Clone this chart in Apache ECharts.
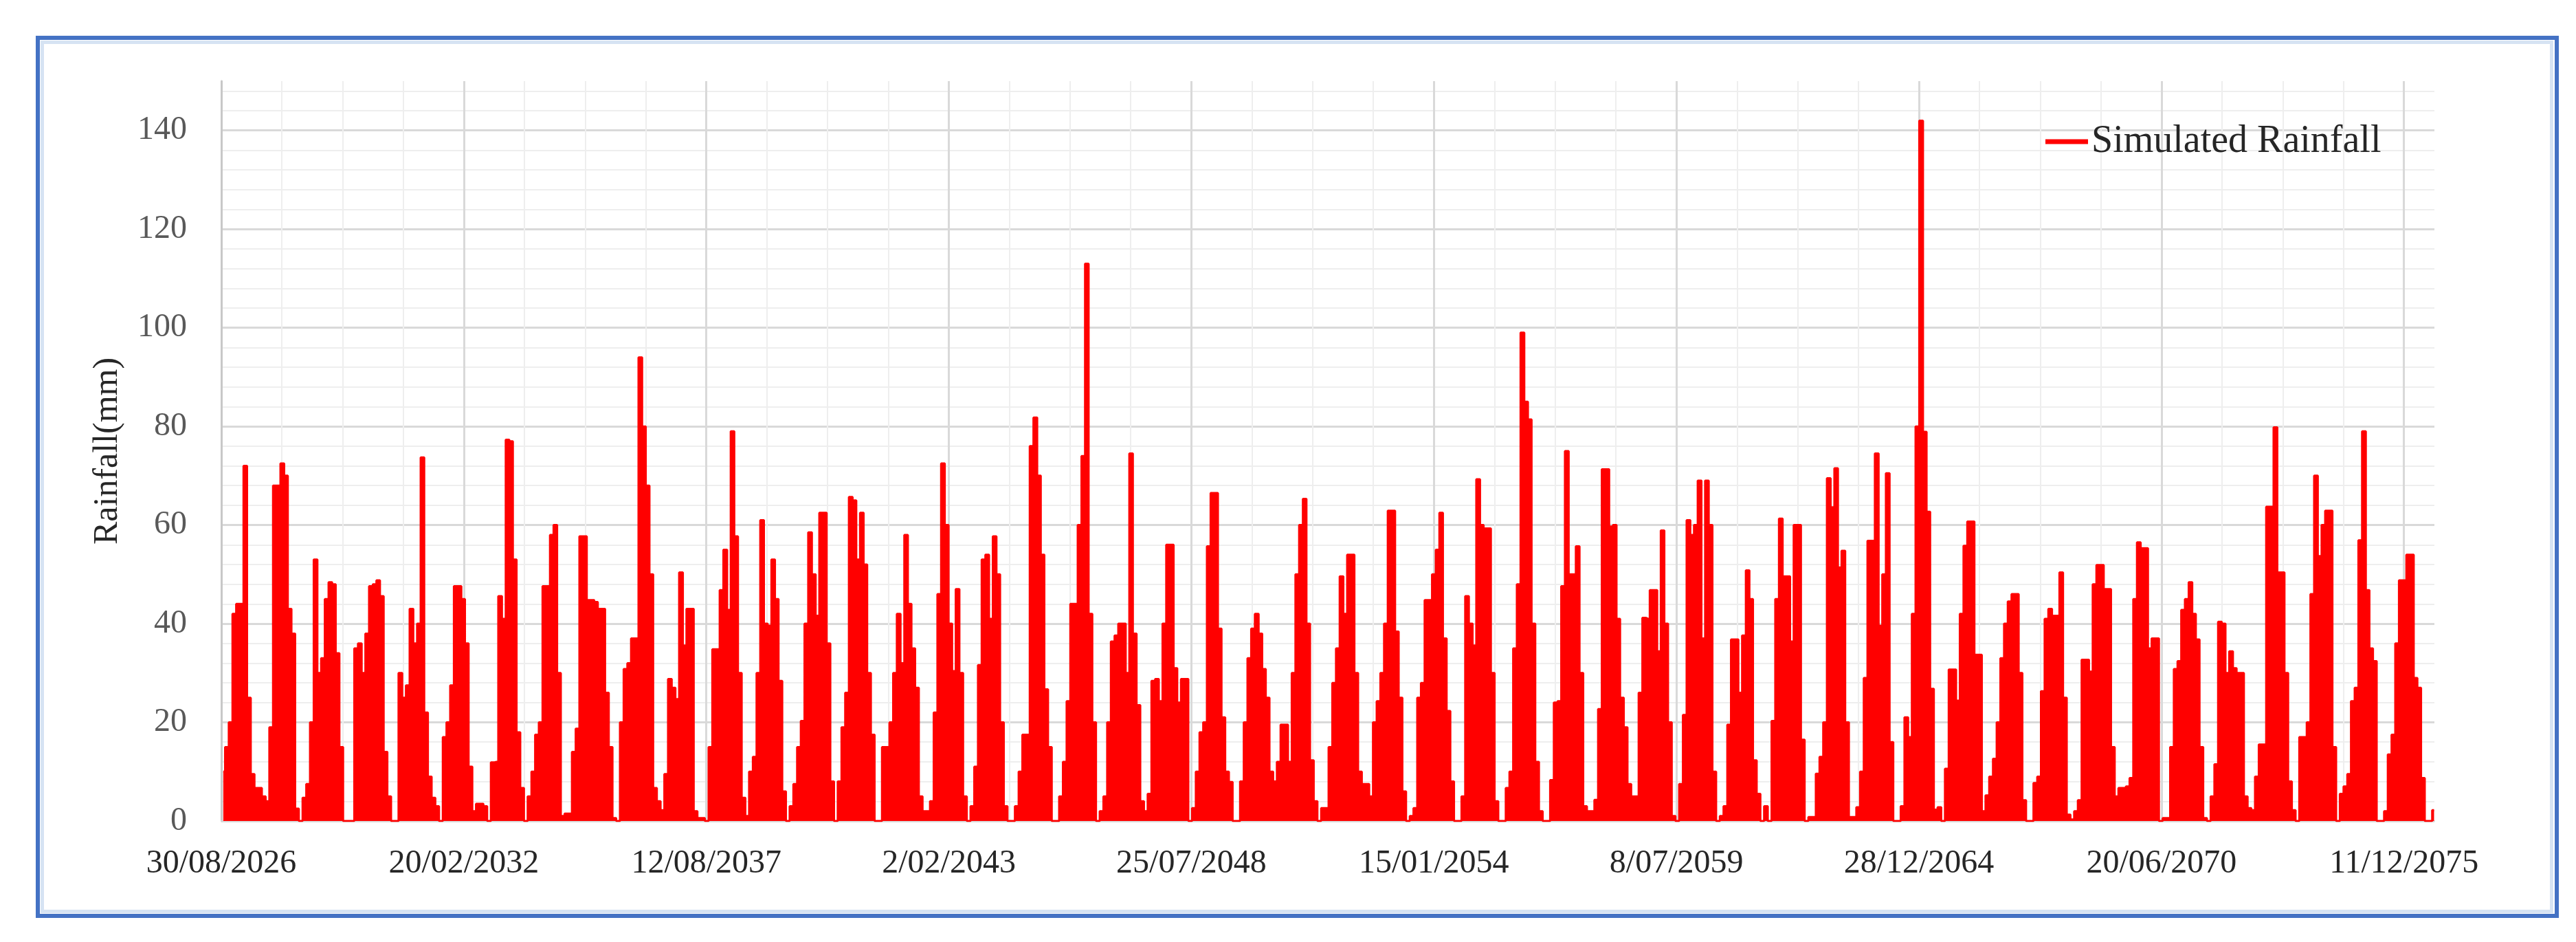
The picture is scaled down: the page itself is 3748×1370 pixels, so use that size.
<!DOCTYPE html>
<html>
<head>
<meta charset="utf-8">
<script src="https://cdn.jsdelivr.net/npm/echarts@6/dist/echarts.min.js"></script>
<style>
html,body{margin:0;padding:0;background:#ffffff;}
#chart{width:3748px;height:1370px;}
</style>
</head>
<body>
<div id="chart"></div>
<script>
// ---- DATA (monthly envelope of simulated daily rainfall, mm; first value = Sep 2026) ----
const seriesName = 'Simulated Rainfall';
const axisOriginDate = [2026, 7, 30];   // 30/08/2026 (UTC y, m0, d)
const firstMonth = [2026, 8];           // Sep 2026
const xTickLabels = ['30/08/2026','20/02/2032','12/08/2037','2/02/2043','25/07/2048',
                     '15/01/2054','8/07/2059','28/12/2064','20/06/2070','11/12/2075'];
const xTickStepDays = 2000;
const yTickValues = [0, 20, 40, 60, 80, 100, 120, 140];

const rainSep2026toAug2036 = [
  10, 15, 20, 42, 44, 44, 72, 25, 9.5, 6.7, 6.7, 5,
  4, 19, 68, 68, 72.5, 70, 43, 38, 2.5, 0, 4.7, 7.5,
  20, 53, 30, 33, 45, 48.4, 48, 34, 15, 0, 0, 0,
  35, 36, 30, 38, 47.6, 48, 48.8, 45.6, 14, 5, 0, 0,
  30, 25, 27.5, 43, 36, 40, 73.7, 22, 9, 4.7, 3, 0,
  17, 20, 27.5, 47.6, 47.6, 45, 36, 11, 2, 3.5, 3.5, 3,
  0, 11.9, 12, 45.6, 41, 77.3, 77, 53, 18, 6.7, 0, 5,
  10, 17.5, 20, 47.6, 47.6, 58, 60, 30, 1, 1.5, 1.5, 14,
  18.7, 57.7, 57.7, 44.8, 44.8, 44.4, 43, 43, 26, 15, 0.6, 0,
  20, 30.8, 32, 37, 37, 94, 80, 68, 50, 6.7, 4, 2.2
];
const rainSep2036toAug2046 = [
  9.5, 28.8, 27, 24.7, 50.4, 35.6, 43, 43, 2, 0.6, 0.6, 0,
  15, 34.8, 34.8, 46.8, 55, 42.8, 79, 57.7, 30, 4.7, 1, 10,
  13, 30, 61, 40, 39.6, 53, 45, 28.4, 6, 0, 3, 7.5,
  15, 20.3, 40, 58.5, 50, 41.6, 62.5, 62.5, 36, 8, 0, 8,
  19, 26, 65.7, 65, 53, 62.5, 52, 30, 17.5, 0, 0, 15,
  15, 20, 30, 42, 32, 58, 44, 35, 27, 5, 2, 2,
  4, 22, 46, 72.5, 60, 40, 30.4, 47, 30, 5, 0, 3,
  11, 31.6, 53, 54, 41, 57.7, 50, 20, 3, 0, 0, 3,
  10, 17.5, 17.5, 76, 81.8, 70, 54, 26.7, 15, 0, 0, 5,
  12, 24.3, 44, 44, 60, 74, 113, 42, 20, 0, 2, 5
];
const rainSep2046toAug2056 = [
  20, 36.4, 37.6, 40, 40, 30, 74.5, 38, 23.5, 4, 2, 5.5,
  28.4, 28.8, 24.3, 40, 56, 56, 31, 24, 28.8, 28.8, 0, 2.6,
  10, 18, 20, 55.7, 66.5, 66.5, 39, 21, 10, 7.9, 0, 0,
  8, 20, 33, 39, 42, 38, 30.8, 25, 10, 8, 12, 19.5,
  19.5, 12, 30, 50, 60, 65.3, 40, 12.3, 4, 0, 2.6, 2.6,
  15, 28, 35, 49.6, 42, 54, 54, 30, 10, 7.5, 7.5, 5,
  20, 24.3, 30, 40, 62.9, 62.9, 38.4, 25, 6, 0, 1, 2.6,
  25, 28, 44.8, 44.8, 50, 55, 62.5, 37, 22.3, 8, 0, 0,
  5, 45.6, 40, 35.6, 69.3, 60, 59.3, 59.3, 30, 4, 0, 0,
  6.7, 10, 35, 48, 99, 85, 81.4, 40, 12, 2, 0, 0
];
const rainSep2056toAug2066 = [
  8.3, 24, 24.3, 47.6, 75, 50, 50, 55.7, 30, 3, 2, 2,
  4.3, 22.7, 71.3, 71.3, 59.7, 60, 41, 25, 19, 7.5, 5, 5,
  26, 41.2, 41, 46.8, 46.8, 34.4, 58.9, 40, 20, 1, 0, 7.5,
  21.5, 61, 58, 60, 69, 37, 69, 60, 10, 0, 1, 3,
  19.5, 36.8, 36.8, 26, 37.6, 50.8, 45, 12.3, 5.5, 0, 3, 0,
  20.3, 45, 61.3, 49.6, 49.6, 36.4, 60, 60, 16.5, 0, 0.8, 0.8,
  9.6, 13, 20, 69.5, 63.6, 71.5, 51.4, 54.8, 20, 0.8, 0.8, 2.8,
  10, 29, 56.8, 56.8, 74.5, 39.6, 50, 70.5, 16, 0, 0, 3,
  21, 17, 42, 80, 142, 78.9, 62.7, 26.8, 2.3, 2.8, 0, 10.6,
  30.7, 30.7, 24.4, 42, 55.8, 60.7, 60.7, 33.7, 33.7, 2, 5.2, 9
];
const rainSep2066toAug2076 = [
  12.6, 20, 33, 40, 44.5, 46, 46, 30, 4.2, 0, 0, 7.7,
  9, 26.3, 41, 43, 41.6, 41.6, 50.4, 25, 1.3, 0.3, 2, 4.2,
  32.7, 32.7, 30.3, 48, 51.9, 51.9, 47, 47, 15, 5, 6.7, 6.7,
  7, 8.7, 45, 56.5, 55.3, 55.3, 35, 37, 37, 0, 0.6, 0.6,
  15, 30.8, 32.4, 42.8, 45, 48.4, 42, 36.8, 15, 0.6, 0, 5,
  11.5, 40.4, 40, 30, 34.4, 31, 30, 30, 5, 2.6, 2.2, 9,
  15.5, 15.5, 63.7, 63.7, 79.8, 50.4, 50.4, 30, 8, 2.2, 0, 17,
  17, 20, 46, 70, 53.7, 60, 62.9, 62.9, 15, 0, 5.5, 7,
  9.5, 24.3, 27, 56.9, 79, 46.8, 35, 32.4, 0, 0, 2, 13.5,
  17.5, 36, 48.8, 48.8, 54, 54, 29, 27, 8.7, 0, 0, 2.2
];

// ---- BUILD ----
const DAY = 86400000;
const origin = Date.UTC(axisOriginDate[0], axisOriginDate[1], axisOriginDate[2]);
const monthly = [].concat(rainSep2026toAug2036, rainSep2036toAug2046, rainSep2046toAug2056,
                          rainSep2056toAug2066, rainSep2066toAug2076);
const seriesData = monthly.map((v, k) => [
  (Date.UTC(firstMonth[0], firstMonth[1] + k, 15) - origin) / DAY, v
]);
const xMaxDays = 18251;
const yMax = 150;

const FONT = '"Liberation Serif", "Times New Roman", serif';

// minor gridline colours (hide lines that coincide with major lines)
const yMinorColors = [];
for (let v = 0; v <= 148; v += 4) yMinorColors.push(v % 20 === 0 ? 'rgba(0,0,0,0)' : '#eeeeee');
const xMinorColors = [];
for (let v = 0; v <= 18000; v += 500) xMinorColors.push(v % 2000 === 0 ? 'rgba(0,0,0,0)' : '#eeeeee');

const chart = echarts.init(document.getElementById('chart'), null, {renderer: 'canvas'});
chart.setOption({
  animation: false,
  backgroundColor: '#ffffff',
  grid: {left: 322, right: 206, top: 118, bottom: 176, containLabel: false},
  legend: {
    data: [seriesName],
    left: 2976, top: 176,
    padding: 0,
    icon: 'rect', itemWidth: 62, itemHeight: 7,
    itemStyle: {color: '#ff0000'},
    textStyle: {fontFamily: FONT, fontSize: 56, color: '#262626', lineHeight: 60}
  },
  graphic: [
    {type: 'rect', shape: {x: 55, y: 55, width: 3665, height: 1277}, z: 100,
     style: {fill: null, stroke: '#4472c4', lineWidth: 6}},
    {type: 'rect', shape: {x: 61.5, y: 61.5, width: 3651, height: 1264}, z: 100,
     style: {fill: null, stroke: '#d6e3f3', lineWidth: 5}}
  ],
  xAxis: [
    {
      type: 'value', min: 0, max: xMaxDays, interval: xTickStepDays,
      axisLine: {show: true, lineStyle: {color: '#d9d9d9', width: 2}},
      axisTick: {show: false},
      axisLabel: {
        show: true, margin: 38, showMaxLabel: false,
        fontFamily: FONT, fontSize: 48, color: '#262626',
        formatter: v => {
          const i = Math.round(v / xTickStepDays);
          return (Math.abs(v - i * xTickStepDays) < 1e-6 && xTickLabels[i]) ? xTickLabels[i] : '';
        }
      },
      splitLine: {show: true, showMaxLine: false, lineStyle: {color: '#d9d9d9', width: 3}}
    },
    {
      type: 'value', min: 0, max: xMaxDays, interval: 500, position: 'bottom',
      axisLine: {show: false}, axisTick: {show: false}, axisLabel: {show: false},
      splitLine: {show: true, showMaxLine: false, lineStyle: {color: xMinorColors, width: 2}}
    }
  ],
  yAxis: [
    {
      type: 'value', min: 0, max: yMax, interval: 20,
      name: 'Rainfall(mm)', nameLocation: 'middle', nameGap: 140, nameRotate: 90,
      nameTextStyle: {fontFamily: FONT, fontSize: 50, color: '#262626'},
      axisLine: {show: true, lineStyle: {color: '#c8c8c8', width: 3}},
      axisTick: {show: false},
      axisLabel: {
        margin: 50, fontFamily: FONT, fontSize: 48, color: '#595959', showMaxLabel: false,
        formatter: v => (yTickValues.indexOf(v) >= 0 ? String(v) : '')
      },
      splitLine: {show: true, showMaxLine: false, lineStyle: {color: '#d9d9d9', width: 3}}
    },
    {
      type: 'value', min: 0, max: yMax, interval: 4, position: 'right',
      axisLine: {show: false}, axisTick: {show: false}, axisLabel: {show: false},
      splitLine: {show: true, showMaxLine: false, lineStyle: {color: yMinorColors, width: 2}}
    }
  ],
  series: [{
    name: seriesName,
    type: 'line',
    xAxisIndex: 0, yAxisIndex: 0,
    data: seriesData,
    step: 'middle',
    symbol: 'none',
    color: '#ff0000',
    lineStyle: {color: '#ff0000', width: 3},
    areaStyle: {color: '#ff0000', opacity: 1},
    z: 5
  }]
});
</script>
</body>
</html>
